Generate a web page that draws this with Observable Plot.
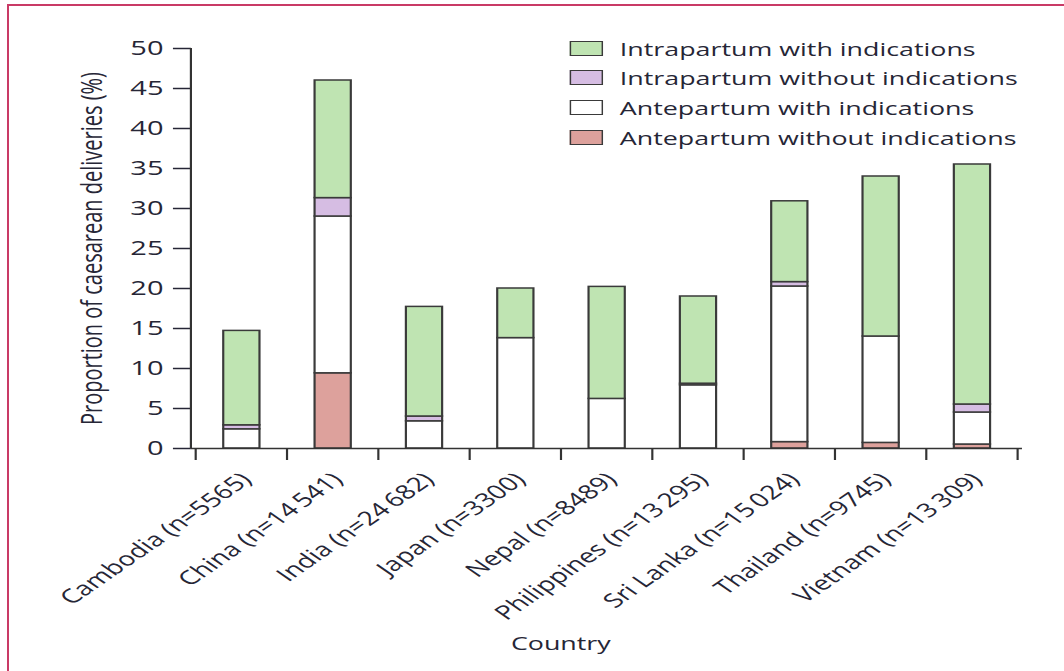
<!DOCTYPE html>
<html><head><meta charset="utf-8">
<script src="https://cdn.jsdelivr.net/npm/d3@7"></script>
<script src="https://cdn.jsdelivr.net/npm/@observablehq/plot@0.6"></script>
<style>
html,body{margin:0;padding:0;background:#fff;width:1064px;height:671px;overflow:hidden}
#border{position:absolute;left:7px;top:4px;width:1080px;height:700px;border-left:2.5px solid #c93a66;border-top:2.5px solid #c93a66;}
#wrap{position:absolute;left:0;top:0;width:734px;height:671px;transform:scaleX(1.4496);transform-origin:0 0;font-family:'Open Sans',sans-serif;color:#262636}
#chart{position:absolute;left:0;top:0}
#legend{position:absolute;left:393px;top:33.5px}
.row{display:flex;align-items:center;height:29.6px;font-size:18.5px;white-space:nowrap}
.sw{box-sizing:border-box;width:23px;height:15px;border:1.6px solid #3a3a3a;margin-right:11.6px}
</style></head>
<body>
<div id="border"></div>
<div id="wrap"><div id="chart"></div><div id="legend"></div></div>
<script>
const countries = ["Cambodia (n=5565)", "China (n=14\u2009541)", "India (n=24\u2009682)", "Japan (n=3300)", "Nepal (n=8489)", "Philippines (n=13\u2009295)", "Sri Lanka (n=15\u2009024)", "Thailand (n=9745)", "Vietnam (n=13\u2009309)"];
const seriesNames = ["Antepartum without indications", "Antepartum with indications", "Intrapartum without indications", "Intrapartum with indications"];
const anteWithout = [0, 9.4, 0, 0, 0, 0, 0.8, 0.7, 0.5];
const anteWith = [2.4, 19.6, 3.4, 13.8, 6.2, 7.9, 19.45, 13.3, 4.0];
const intraWithout = [0.5, 2.3, 0.6, 0, 0, 0.2, 0.55, 0, 1.0];
const intraWith = [11.8, 14.7, 13.7, 6.2, 14.0, 10.9, 10.1, 20.0, 30.0];
const colors = ["#dda19c", "#ffffff", "#d6bde3", "#bfe4b2"];
const yTicks = [0, 5, 10, 15, 20, 25, 30, 35, 40, 45, 50];
const legendOrder = ["Intrapartum with indications", "Intrapartum without indications", "Antepartum with indications", "Antepartum without indications"];
const yLabel = "Proportion of caesarean deliveries (%)";
const xLabel = "Country";

const seriesValues = [anteWithout, anteWith, intraWithout, intraWith];
const data = [];
seriesValues.forEach((vals, si) => vals.forEach((v, ci) => {
  if (v > 0) data.push({country: countries[ci], series: seriesNames[si], value: v});
}));

const PAD = 0.61;
function boundaryTicks(index, scales, values, dims) {
  const x = scales.x;
  const step = x(countries[1]) - x(countries[0]);
  let bw = typeof x.bandwidth === "function" ? x.bandwidth() : x.bandwidth;
  if (!(bw > 0)) bw = step * (1 - PAD);
  const y0 = dims.height - dims.marginBottom;
  const g = d3.create("svg:g").attr("stroke", "#333").attr("stroke-width", 1.5);
  const bounds = countries.map(c => x(c) + bw / 2 - step / 2);
  bounds.push(bounds[bounds.length - 1] + step);
  for (const b of bounds) g.append("line").attr("x1", b).attr("x2", b).attr("y1", y0).attr("y2", y0 + 12);
  g.append("line").attr("x1", dims.marginLeft).attr("x2", dims.marginLeft).attr("y1", dims.marginTop).attr("y2", y0);
  return g.node();
}

const chart = Plot.plot({
  width: 734, height: 671,
  marginTop: 48, marginBottom: 223, marginLeft: 131.7, marginRight: 29,
  style: {fontFamily: "'Open Sans', sans-serif", color: "#262636", background: "transparent", overflow: "visible"},
  x: {domain: countries, paddingInner: PAD, paddingOuter: PAD / 2, axis: null},
  y: {domain: [0, 50]},
  color: {domain: seriesNames, range: colors},
  marks: [
    Plot.barY(data, {x: "country", y: "value", fill: "series", stroke: "#3a3a3a", strokeWidth: 1.5}),
    Plot.ruleY([0], {stroke: "#333", strokeWidth: 1.5}),
    Plot.axisY({ticks: yTicks, tickSize: 12.4, tickPadding: 7, fontSize: 20, label: null, strokeWidth: 1.5}),
    Plot.text(countries, {x: d => d, frameAnchor: "bottom", rotate: -45, textAnchor: "end", lineAnchor: "middle", dx: 3, dy: 28, fontSize: 19.5}),
    Plot.text([xLabel], {frameAnchor: "bottom", textAnchor: "middle", dx: -32, dy: 201, fontSize: 18.5}),
    Plot.text([yLabel], {frameAnchor: "left", rotate: -90, textAnchor: "middle", dx: -68, fontSize: 20}),
    boundaryTicks
  ]
});
document.getElementById("chart").appendChild(chart);

const leg = d3.select("#legend");
for (const name of legendOrder) {
  const row = leg.append("div").attr("class", "row");
  row.append("div").attr("class", "sw").style("background", colors[seriesNames.indexOf(name)]);
  row.append("span").text(name);
}
</script>
</body></html>
